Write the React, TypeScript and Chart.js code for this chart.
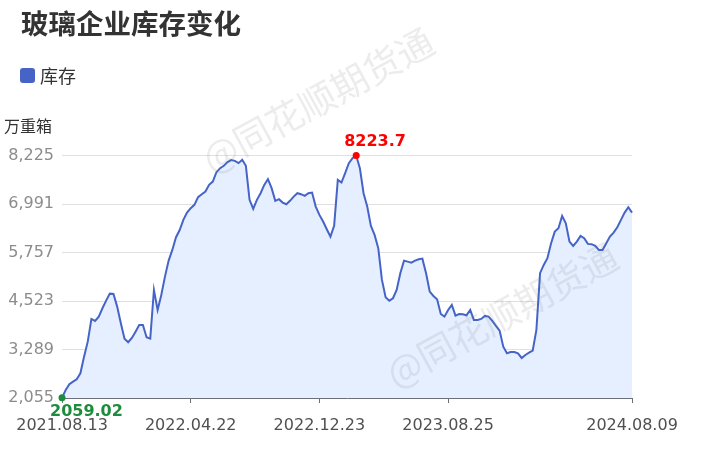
import React, { useEffect, useRef } from 'react';
import { Chart, registerables } from 'chart.js';

Chart.register(...registerables);

const chartTitle = '玻璃企业库存变化';
const seriesName = '库存';
const unitLabel = '万重箱';
const watermarkText = '@同花顺期货通';

const dates: string[] = [
  '2021.08.13', '2021.08.20', '2021.08.27', '2021.09.03', '2021.09.10', '2021.09.17', '2021.09.24',
  '2021.10.01', '2021.10.08', '2021.10.15', '2021.10.22', '2021.10.29', '2021.11.05', '2021.11.12',
  '2021.11.19', '2021.11.26', '2021.12.03', '2021.12.10', '2021.12.17', '2021.12.24', '2021.12.31',
  '2022.01.07', '2022.01.14', '2022.01.21', '2022.01.28', '2022.02.11', '2022.02.18', '2022.02.25',
  '2022.03.04', '2022.03.11', '2022.03.18', '2022.03.25', '2022.04.01', '2022.04.08', '2022.04.15',
  '2022.04.22', '2022.04.29', '2022.05.06', '2022.05.13', '2022.05.20', '2022.05.27', '2022.06.03',
  '2022.06.10', '2022.06.17', '2022.06.24', '2022.07.01', '2022.07.08', '2022.07.15', '2022.07.22',
  '2022.07.29', '2022.08.05', '2022.08.12', '2022.08.19', '2022.08.26', '2022.09.02', '2022.09.09',
  '2022.09.16', '2022.09.23', '2022.09.30', '2022.10.07', '2022.10.14', '2022.10.21', '2022.10.28',
  '2022.11.04', '2022.11.11', '2022.11.18', '2022.11.25', '2022.12.02', '2022.12.09', '2022.12.16',
  '2022.12.23', '2022.12.30', '2023.01.06', '2023.01.13', '2023.01.20', '2023.01.27', '2023.02.03',
  '2023.02.10', '2023.02.17', '2023.02.24', '2023.03.03', '2023.03.10', '2023.03.17', '2023.03.24',
  '2023.03.31', '2023.04.07', '2023.04.14', '2023.04.21', '2023.04.28', '2023.05.05', '2023.05.12',
  '2023.05.19', '2023.05.26', '2023.06.02', '2023.06.09', '2023.06.16', '2023.06.23', '2023.06.30',
  '2023.07.07', '2023.07.14', '2023.07.21', '2023.07.28', '2023.08.04', '2023.08.11', '2023.08.18',
  '2023.08.25', '2023.09.01', '2023.09.08', '2023.09.15', '2023.09.22', '2023.09.29', '2023.10.06',
  '2023.10.13', '2023.10.20', '2023.10.27', '2023.11.03', '2023.11.10', '2023.11.17', '2023.11.24',
  '2023.12.01', '2023.12.08', '2023.12.15', '2023.12.22', '2023.12.29', '2024.01.05', '2024.01.12',
  '2024.01.19', '2024.01.26', '2024.02.02', '2024.02.09', '2024.02.16', '2024.02.23', '2024.03.01',
  '2024.03.08', '2024.03.15', '2024.03.22', '2024.03.29', '2024.04.05', '2024.04.12', '2024.04.19',
  '2024.04.26', '2024.05.03', '2024.05.10', '2024.05.17', '2024.05.24', '2024.05.31', '2024.06.07',
  '2024.06.14', '2024.06.21', '2024.06.28', '2024.07.05', '2024.07.12', '2024.07.19', '2024.07.26',
  '2024.08.02', '2024.08.09',
];

const inventory: number[] = [
  2059.02, 2259, 2404, 2470, 2531, 2684, 3107, 3489, 4066, 4015,
  4125, 4339, 4532, 4710, 4703, 4380, 3957, 3565, 3473, 3583,
  3743, 3914, 3914, 3600, 3565, 4805, 4296, 4677, 5143, 5550,
  5823, 6146, 6330, 6587, 6773, 6884, 6969, 7165, 7241, 7308,
  7478, 7562, 7801, 7903, 7962, 8056, 8107, 8089, 8031, 8115,
  7962, 7096, 6867, 7096, 7266, 7478, 7623, 7394, 7071, 7113,
  7028, 6986, 7071, 7180, 7266, 7241, 7198, 7266, 7282, 6926,
  6714, 6544, 6350, 6162, 6434, 7605, 7537, 7776, 8031, 8158,
  8223.7, 7903, 7266, 6926, 6434, 6205, 5866, 5059, 4619, 4532,
  4593, 4805, 5230, 5550, 5525, 5499, 5550, 5584, 5601, 5230,
  4761, 4652, 4567, 4193, 4125, 4296, 4423, 4150, 4193, 4185,
  4160, 4296, 4041, 4041, 4066, 4143, 4125, 4015, 3888, 3769,
  3361, 3192, 3226, 3226, 3192, 3073, 3150, 3209, 3260, 3786,
  5230, 5441, 5611, 5993, 6289, 6375, 6688, 6502, 6035, 5925,
  6035, 6179, 6121, 5976, 5968, 5925, 5823, 5823, 5993, 6162,
  6264, 6400, 6587, 6773, 6910, 6773,
];

const yTicks: number[] = [2055, 3289, 4523, 5757, 6991, 8225];
const xTickLabels: string[] = ['2021.08.13', '2022.04.22', '2022.12.23', '2023.08.25', '2024.08.09'];

const LINE_COLOR = '#4664c8';
const FILL_COLOR = '#e5efff';
const MAX_COLOR = '#ff0000';
const MIN_COLOR = '#1d8c3c';
const NUM_FONT = '"DejaVu Sans", "Noto Sans CJK SC", sans-serif';
const CJK_FONT = '"Noto Sans CJK SC", "DejaVu Sans", sans-serif';

export default function App() {
  const ref = useRef<HTMLCanvasElement>(null);

  useEffect(() => {
    if (!ref.current) return;
    const maxVal = Math.max(...inventory);
    const minVal = Math.min(...inventory);
    const maxIdx = inventory.indexOf(maxVal);
    const minIdx = inventory.indexOf(minVal);

    const decor = {
      id: 'decor',
      afterDraw(chart: any) {
        const ctx = chart.ctx as CanvasRenderingContext2D;
        ctx.save();
        // title
        ctx.fillStyle = '#333333';
        ctx.textAlign = 'left';
        ctx.textBaseline = 'middle';
        ctx.font = `bold 27.5px ${CJK_FONT}`;
        ctx.fillText(chartTitle, 21, 24);
        // legend
        ctx.fillStyle = LINE_COLOR;
        ctx.beginPath();
        (ctx as any).roundRect(20, 68, 15, 15, 3);
        ctx.fill();
        ctx.fillStyle = '#333333';
        ctx.font = `18px ${CJK_FONT}`;
        ctx.fillText(seriesName, 40, 76);
        // unit
        ctx.font = `16px ${CJK_FONT}`;
        ctx.fillText(unitLabel, 4, 126);

        // extreme labels
        const meta = chart.getDatasetMeta(0);
        const pMax = meta.data[maxIdx];
        const pMin = meta.data[minIdx];
        ctx.font = `bold 16px ${NUM_FONT}`;
        ctx.textAlign = 'left';
        ctx.fillStyle = MAX_COLOR;
        ctx.fillText(String(maxVal), pMax.x - 12, pMax.y - 14);
        ctx.fillStyle = MIN_COLOR;
        ctx.fillText(String(minVal), pMin.x - 12, pMin.y + 14.5);

        // watermarks
        ctx.font = `37px ${CJK_FONT}`;
        ctx.textAlign = 'center';
        ctx.fillStyle = 'rgba(110,110,110,0.13)';
        const marks = [
          [318, 100],
          [502, 315],
        ];
        for (const [cx, cy] of marks) {
          ctx.save();
          ctx.translate(cx, cy);
          ctx.rotate(-Math.PI / 6.3);
          ctx.fillText(watermarkText, 0, 0);
          ctx.restore();
        }
        ctx.restore();
      },
    };

    const chart = new Chart(ref.current, {
      type: 'line',
      data: {
        labels: dates,
        datasets: [
          {
            label: seriesName,
            data: inventory,
            borderColor: LINE_COLOR,
            backgroundColor: FILL_COLOR,
            borderWidth: 2,
            fill: 'start',
            tension: 0,
            clip: false as any,
            pointRadius: (c: any) => (c.dataIndex === maxIdx || c.dataIndex === minIdx ? 3.5 : 0),
            pointHoverRadius: 0,
            pointBorderWidth: 0,
            pointBackgroundColor: (c: any) =>
              c.dataIndex === maxIdx ? MAX_COLOR : c.dataIndex === minIdx ? MIN_COLOR : LINE_COLOR,
          },
        ],
      },
      plugins: [decor],
      options: {
        animation: false,
        responsive: true,
        maintainAspectRatio: false,
        layout: { padding: { top: 155.5, right: 69, bottom: 0, left: 0 } },
        plugins: {
          legend: { display: false },
          title: { display: false },
          tooltip: { enabled: false },
        },
        scales: {
          x: {
            type: 'category',
            afterBuildTicks: (scale: any) => {
              scale.ticks = xTickLabels.map((l) => ({ value: dates.indexOf(l) }));
            },
            afterFit: (scale: any) => {
              scale.height = 51;
            },
            ticks: {
              autoSkip: false,
              maxRotation: 0,
              minRotation: 0,
              padding: 13,
              color: '#505050',
              font: { family: NUM_FONT, size: 16 },
              callback: (v: any) => dates[v as number],
            },
            grid: {
              drawOnChartArea: false,
              drawTicks: true,
              tickLength: 5,
              color: '#6E7079',
              offset: false,
            },
            border: { display: true, color: '#6E7079', width: 1 },
          },
          y: {
            type: 'linear',
            min: yTicks[0],
            max: yTicks[yTicks.length - 1],
            afterBuildTicks: (scale: any) => {
              scale.ticks = yTicks.map((v) => ({ value: v }));
            },
            afterFit: (scale: any) => {
              scale.width = 62;
            },
            ticks: {
              padding: 8,
              color: '#8c8c8c',
              font: { family: NUM_FONT, size: 16 },
              callback: (v: any) => Number(v).toLocaleString('en-US'),
            },
            grid: {
              drawTicks: false,
              color: (c: any) => (c.index === 0 ? 'rgba(0,0,0,0)' : '#e0e0e0'),
              lineWidth: 1,
            },
            border: { display: false },
          },
        },
      },
    });
    return () => chart.destroy();
  }, []);

  return (
    <div style={{ position: 'absolute', left: 0, top: 0, width: 701, height: 449 }}>
      <canvas ref={ref} />
    </div>
  );
}
